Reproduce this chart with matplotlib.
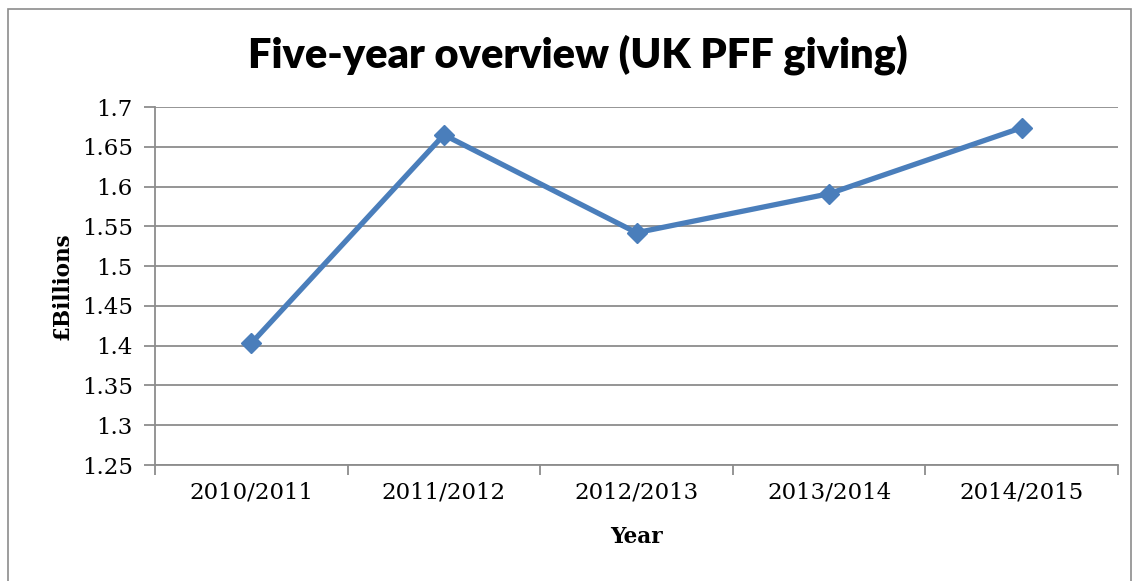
import matplotlib.pyplot as plt
from matplotlib.patches import Rectangle

years = ["2010/2011", "2011/2012", "2012/2013", "2013/2014", "2014/2015"]
giving = [1.403, 1.665, 1.542, 1.591, 1.674]
yticks = [1.25, 1.3, 1.35, 1.4, 1.45, 1.5, 1.55, 1.6, 1.65, 1.7]

W, H = 1140, 581
fig = plt.figure(figsize=(W / 100, H / 100), dpi=100)

# chart area frame
fig.patches.append(Rectangle((8 / W, -0.1), (1131 - 8) / W, 1.1 - 9 / H,
                             transform=fig.transFigure, fill=False,
                             edgecolor="#8c8c8c", linewidth=1.2))

ax = fig.add_axes([155 / W, 1 - 465 / H, (1118 - 155) / W, (465 - 107) / H])

x = list(range(len(years)))
ax.plot(x, giving, color="#4a7ebb", linewidth=3.8, marker="D",
        markersize=10, solid_joinstyle="miter")

ax.set_xlim(-0.5, len(years) - 0.5)
ax.set_ylim(1.25, 1.7)
ax.set_yticks(yticks)
ax.set_yticklabels([f"{v:g}" for v in yticks], family="DejaVu Serif", fontsize=16.5)
ax.yaxis.grid(True, color="#8c8c8c", linewidth=1.3)
ax.set_axisbelow(True)

# category labels between boundary ticks
ax.set_xticks([i - 0.5 for i in range(len(years) + 1)])
ax.set_xticklabels([])
ax.set_xticks(x, minor=True)
ax.set_xticklabels(years, minor=True, family="DejaVu Serif", fontsize=16.5)
ax.tick_params(axis="x", which="minor", length=0, pad=12)
ax.tick_params(axis="x", which="major", length=7, color="#8c8c8c", width=1.3)
ax.tick_params(axis="y", length=8, color="#8c8c8c", width=1.3, pad=8)

for side in ["top", "right"]:
    ax.spines[side].set_visible(False)
for side in ["left", "bottom"]:
    ax.spines[side].set_color("#8c8c8c")
    ax.spines[side].set_linewidth(1.3)

fig.text(578 / W, 1 - 55 / H, "Five-year overview (UK PFF giving)",
         family="Lato", weight="heavy", fontsize=30, ha="center", va="center")
fig.text(62 / W, 1 - 286 / H, "£Billions", family="DejaVu Serif",
         weight="bold", fontsize=15.5, rotation=90, ha="center", va="center")
fig.text(636 / W, 1 - 537 / H, "Year", family="DejaVu Serif",
         weight="bold", fontsize=15.5, ha="center", va="center")

fig.savefig("out.png", dpi=100)
